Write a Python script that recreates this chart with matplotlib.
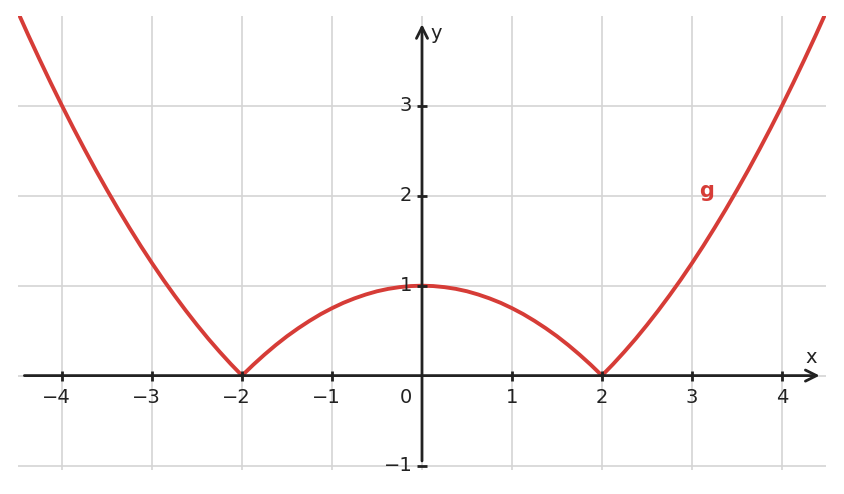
import numpy as np
import matplotlib.pyplot as plt

# values (right half; the curve is symmetric about x=0)
x_half = [0.0, 0.125, 0.25, 0.375, 0.5, 0.625, 0.75, 0.875, 1.0, 1.125, 1.25, 1.375,
          1.5, 1.625, 1.75, 1.875, 2.0, 2.125, 2.25, 2.375, 2.5, 2.625, 2.75, 2.875,
          3.0, 3.125, 3.25, 3.375, 3.5, 3.625, 3.75, 3.875, 4.0, 4.125, 4.25, 4.375, 4.5]
g_half = [1.0, 0.996, 0.984, 0.965, 0.938, 0.902, 0.859, 0.809, 0.75, 0.684, 0.609, 0.527,
          0.438, 0.340, 0.234, 0.121, 0.0, 0.129, 0.266, 0.410, 0.563, 0.723, 0.891, 1.066,
          1.25, 1.441, 1.641, 1.848, 2.063, 2.285, 2.516, 2.754, 3.0, 3.254, 3.516, 3.785, 4.063]
x_vals = [-v for v in x_half[::-1]] + x_half[1:]
g_vals = g_half[::-1] + g_half[1:]

x_ticks = [-4, -3, -2, -1, 1, 2, 3, 4]
y_ticks = [-1, 1, 2, 3]

dark = '#222222'
red = '#d63c37'

fig = plt.figure(figsize=(8.44, 4.94), dpi=100)
ax = fig.add_axes([18 / 844, 24 / 494, 808 / 844, 454 / 494])
ax.set_xlim(-4.49, 4.49)
ax.set_ylim(-1.05, 4.0)
for s in ax.spines.values():
    s.set_visible(False)
ax.set_xticks([])
ax.set_yticks([])

# grid
for xv in range(-4, 5):
    ax.axvline(xv, color='#d4d4d4', lw=1.2, zorder=0)
for yv in range(-1, 4):
    ax.axhline(yv, color='#d4d4d4', lw=1.2, zorder=0)

# axes with arrows
ax.annotate('', xy=(4.45, 0), xytext=(-4.45, 0),
            arrowprops=dict(arrowstyle='->', color=dark, lw=2, mutation_scale=20), zorder=3)
ax.annotate('', xy=(0, 3.94), xytext=(0, -0.98),
            arrowprops=dict(arrowstyle='->', color=dark, lw=2, mutation_scale=20), zorder=3)

ax.plot(x_ticks, [0] * len(x_ticks), ls='none', marker='|', ms=7, mew=2, color=dark, zorder=4)
ax.plot([0] * len(y_ticks), y_ticks, ls='none', marker='_', ms=7, mew=2, color=dark, zorder=4)

for t in x_ticks:
    lab = str(t).replace('-', '\u2212')
    ax.annotate(lab, (t, 0), xytext=(6 if t < 0 else 0, -9), textcoords='offset points',
                ha='right' if t < 0 else 'center', va='top', fontsize=14, color=dark)
for t in y_ticks:
    lab = str(t).replace('-', '\u2212')
    ax.annotate(lab, (0, t), xytext=(-7, 0), textcoords='offset points',
                ha='right', va='center', fontsize=14, color=dark)
ax.annotate('0', (0, 0), xytext=(-7, -9), textcoords='offset points',
            ha='right', va='top', fontsize=14, color=dark)
ax.annotate('x', (4.45, 0), xytext=(-8, 6), textcoords='offset points',
            ha='center', va='bottom', fontsize=14, color=dark)
ax.annotate('y', (0, 3.94), xytext=(6, -2), textcoords='offset points',
            ha='left', va='top', fontsize=14, color=dark)

ax.plot(x_vals, g_vals, color=red, lw=2.8, zorder=2, solid_capstyle='round',
        solid_joinstyle='round')
ax.text(3.16, 2.05, 'g', color=red, fontsize=15, fontweight='bold', ha='center', va='center')

fig.savefig('out.png', dpi=100)
